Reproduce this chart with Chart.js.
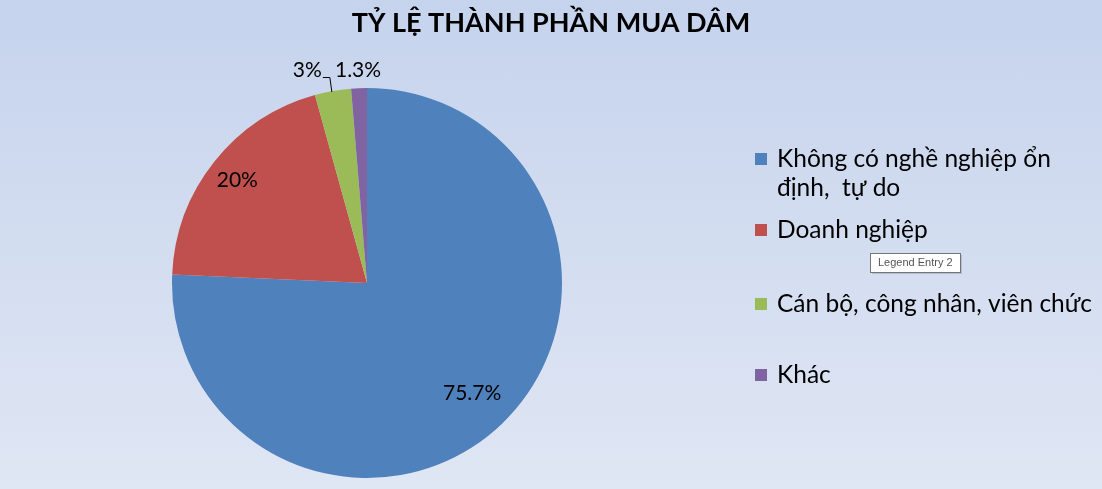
<!DOCTYPE html>
<html>
<head>
<meta charset="utf-8">
<script src="https://cdn.jsdelivr.net/npm/chart.js@4.4.1/dist/chart.umd.min.js"></script>
<style>
  html, body { margin: 0; padding: 0; }
  body {
    width: 1102px; height: 489px; overflow: hidden;
    background: linear-gradient(to bottom, #c5d3ed 0%, #d3ddf0 50%, #dfe6f4 100%);
  }
  canvas { display: block; }
</style>
</head>
<body>
<canvas id="pieCanvas" width="1102" height="489"></canvas>
<script>
// Du lieu bieu do
const chartTitle = "TỶ LỆ THÀNH PHẦN MUA DÂM";
const categories = [
  ["Không có nghề nghiệp ổn", "định,  tự do"],
  ["Doanh nghiệp"],
  ["Cán bộ, công nhân, viên chức"],
  ["Khác"]
];
const percentValues = [75.7, 20, 3, 1.3];
const percentLabels = ["75.7%", "20%", "3%", "1.3%"];
const sliceColors = ["#4f81bd", "#c0504d", "#9bbb59", "#8064a2"];

const fontName = "Lato, 'Open Sans', sans-serif";

// Ve tieu de, nhan du lieu, chu giai
const decorPlugin = {
  id: 'decor',
  afterDraw(chart) {
    const ctx = chart.ctx;
    const arcs = chart.getDatasetMeta(0).data;
    ctx.save();

    // Tieu de
    ctx.fillStyle = "#000";
    ctx.font = "bold 27px " + fontName;
    ctx.textAlign = "center";
    ctx.textBaseline = "middle";
    ctx.fillText(chartTitle, chart.width / 2, 23);

    // Nhan phan tram
    ctx.font = "21px " + fontName;
    const insideFactor = [0.78, 0.85];
    arcs.forEach((arc, i) => {
      const mid = (arc.startAngle + arc.endAngle) / 2;
      const r = arc.outerRadius;
      if (i < 2) {
        const x = arc.x + Math.cos(mid) * r * insideFactor[i];
        const y = arc.y + Math.sin(mid) * r * insideFactor[i];
        ctx.textAlign = "center";
        ctx.fillText(percentLabels[i], x, y);
      } else {
        const rx = arc.x + Math.cos(mid) * r;
        const ry = arc.y + Math.sin(mid) * r;
        const ly = arc.y - r - 18;
        if (i === 2) {
          ctx.textAlign = "right";
          ctx.fillText(percentLabels[i], rx - 11, ly);
          // duong dan
          ctx.strokeStyle = "#000";
          ctx.lineWidth = 1;
          ctx.beginPath();
          ctx.moveTo(rx - 10, ly + 7.5);
          ctx.lineTo(rx - 3, ly + 7.5);
          ctx.lineTo(rx - 1, ry + 1);
          ctx.stroke();
        } else {
          ctx.textAlign = "center";
          ctx.fillText(percentLabels[i], rx - 1, ly);
        }
      }
    });

    // Chu giai
    const legendRows = [167, 238, 312, 383];
    ctx.font = "24.5px " + fontName;
    ctx.textAlign = "left";
    ctx.textBaseline = "alphabetic";
    categories.forEach((lines, i) => {
      const base = legendRows[i];
      ctx.fillStyle = sliceColors[i];
      ctx.fillRect(755, base - 14, 12, 12);
      ctx.fillStyle = "#000";
      lines.forEach((t, k) => ctx.fillText(t, 777, base + k * 29));
    });

    // O goi y "Legend Entry 2"
    ctx.fillStyle = "rgba(0,0,0,0.15)";
    ctx.fillRect(872, 255, 90, 19);
    ctx.fillStyle = "#fff";
    ctx.fillRect(870, 253, 90, 19);
    ctx.strokeStyle = "#767676";
    ctx.strokeRect(870.5, 253.5, 90, 19);
    ctx.fillStyle = "#555";
    ctx.font = "11px 'Liberation Sans', sans-serif";
    ctx.textBaseline = "middle";
    ctx.fillText("Legend Entry 2", 878, 263);

    ctx.restore();
  }
};

new Chart(document.getElementById('pieCanvas'), {
  type: 'pie',
  data: {
    labels: categories,
    datasets: [{
      data: percentValues,
      backgroundColor: sliceColors,
      borderWidth: 0
    }]
  },
  options: {
    responsive: false,
    animation: false,
    devicePixelRatio: 1,
    events: [],
    layout: { padding: { left: 172, right: 540, top: 88, bottom: 11 } },
    plugins: {
      legend: { display: false },
      title: { display: false },
      tooltip: { enabled: false }
    }
  },
  plugins: [decorPlugin]
});
</script>
</body>
</html>
